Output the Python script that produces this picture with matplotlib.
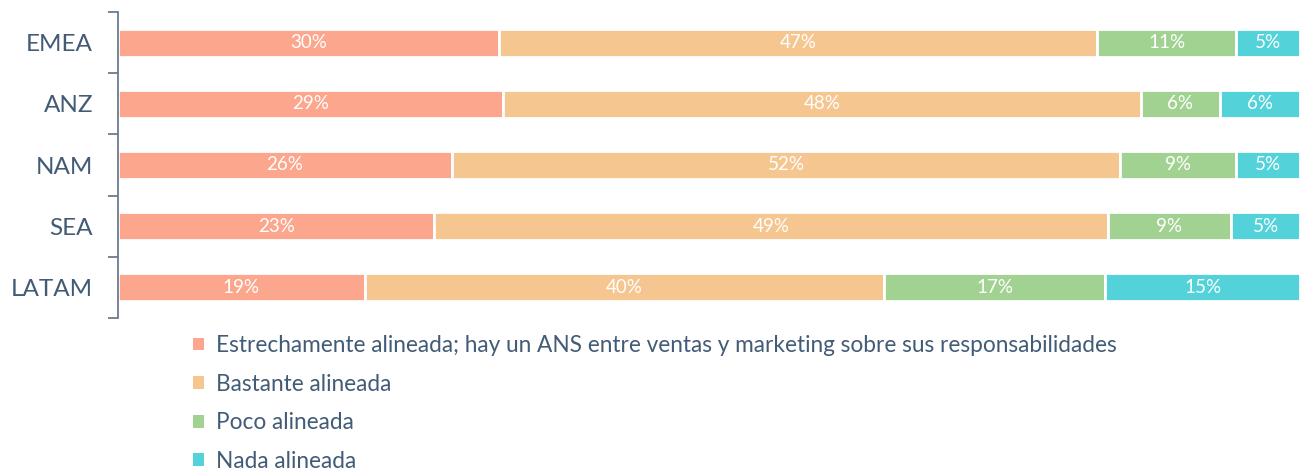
import numpy as np
import matplotlib
matplotlib.use('Agg')
from matplotlib import pyplot as plt
from matplotlib.patches import Patch

plt.rcParams['font.family'] = ['Lato', 'DejaVu Sans']

# data
regions = ['EMEA', 'ANZ', 'NAM', 'SEA', 'LATAM']
series = ['Estrechamente alineada; hay un ANS entre ventas y marketing sobre sus responsabilidades',
          'Bastante alineada', 'Poco alineada', 'Nada alineada']
estrecha = [30, 29, 26, 23, 19]
bastante = [47, 48, 52, 49, 40]
poco = [11, 6, 9, 9, 17]
nada = [5, 6, 5, 5, 15]
colors = ['#FCA68D', '#F5C68F', '#A2D291', '#53D3D9']
txt = '#425B76'

vals = np.array([estrecha, bastante, poco, nada], dtype=float)
shares = vals / vals.sum(axis=0)

fig = plt.figure(figsize=(13.02, 4.72), dpi=100)
ax = fig.add_axes([118/1302, 1-318/472, 1182/1302, 306/472])

y = np.arange(len(regions))
left = np.zeros(len(regions))
for i in range(len(series)):
    ax.barh(y, shares[i], left=left, height=0.46, color=colors[i],
            edgecolor='white', linewidth=2)
    for j in range(len(regions)):
        ax.text(left[j] + shares[i][j]/2, y[j], '%d%%' % vals[i][j],
                ha='center', va='center', color='white', fontsize=13.5)
    left += shares[i]

ax.set_xlim(0, 1)
ax.set_ylim(len(regions)-0.5, -0.5)
ax.set_yticks(y)
ax.set_yticklabels(regions, fontsize=17.5, color=txt)
ax.tick_params(axis='y', which='major', length=0, pad=18)
ax.set_yticks(np.arange(-0.5, len(regions)), minor=True)
ax.tick_params(axis='y', which='minor', length=7, width=1.3, color='#6B7B8F')
ax.set_xticks([])
for s in ['top', 'right', 'bottom']:
    ax.spines[s].set_visible(False)
ax.spines['left'].set_color('#6B7B8F')
ax.spines['left'].set_linewidth(1.3)

handles = [Patch(facecolor=c, edgecolor='none') for c in colors]
fig.legend(handles, series, loc='upper left', bbox_to_anchor=(193/1302, 1-335/472),
           frameon=False, fontsize=16.3, labelcolor=txt, handlelength=0.5,
           handleheight=0.5, handletextpad=0.5, labelspacing=0.78,
           borderaxespad=0, borderpad=0)

fig.savefig('out.png', dpi=100)
